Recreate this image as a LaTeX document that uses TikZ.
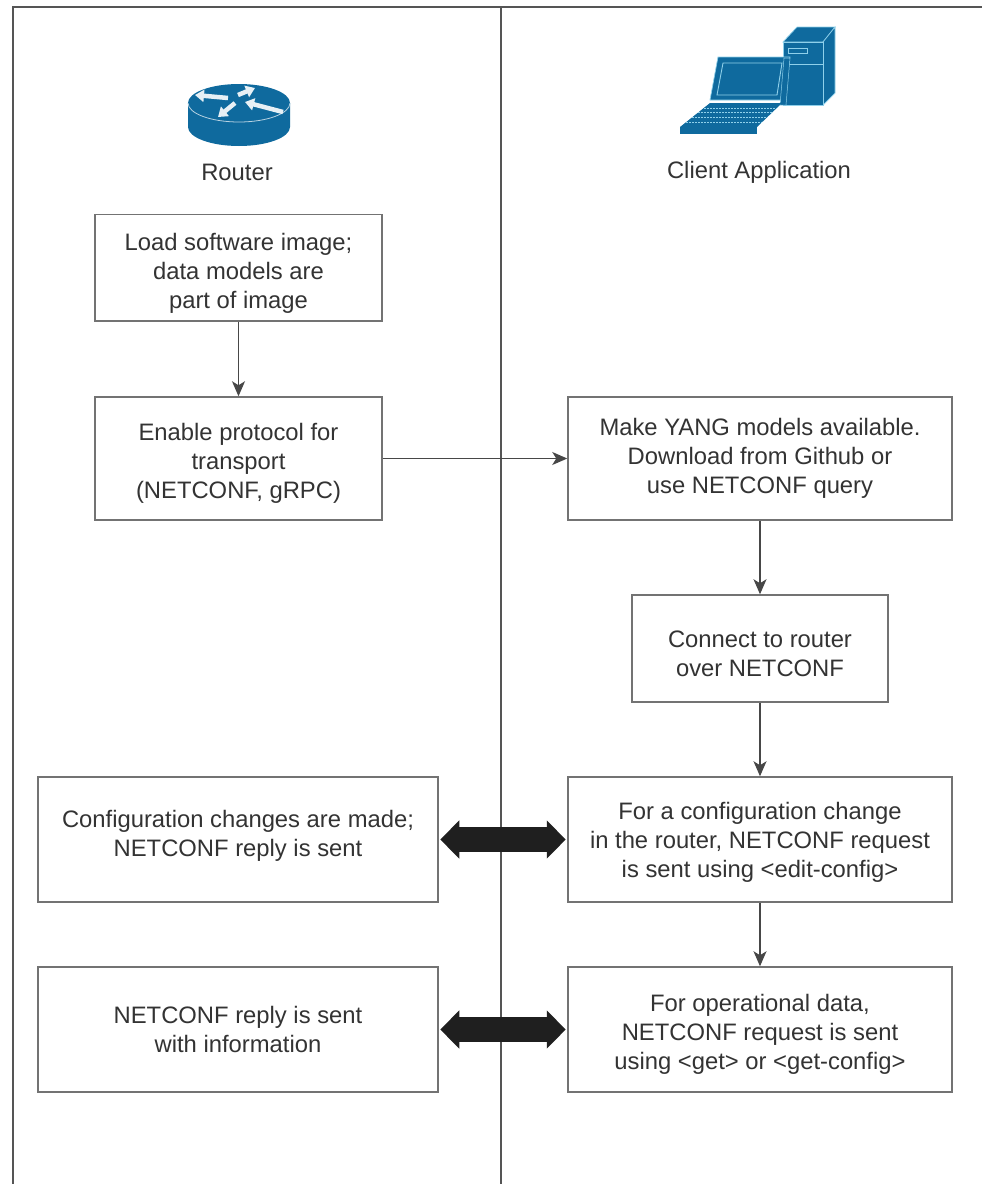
\documentclass[tikz,border=0pt]{standalone}
\usepackage{fontspec}
\setmainfont{Liberation Sans}
\usetikzlibrary{arrows.meta,calc}
\definecolor{ciscoblue}{HTML}{0F6A9E}
\definecolor{ciscolight}{HTML}{8FD0EA}
\definecolor{framegray}{HTML}{555555}
\definecolor{ink}{HTML}{333333}
\newcommand{\txtdown}[1]{\rule{0pt}{\dimexpr 18pt+2\dimexpr #1pt\relax\relax}}
\newcommand{\txtup}[1]{\rule[\dimexpr -6pt-2\dimexpr #1pt\relax\relax]{0pt}{0pt}}
\tikzset{
  x=1pt,y=-1pt,
  stepbox/.style={draw=black!55,line width=1.5pt,fill=white,align=center,text=ink,font=\fontsize{23.8}{29}\selectfont,inner sep=0pt},
  flow/.style={draw=black!72,line width=1.2pt,-{Stealth[length=15pt,width=13pt,inset=4pt]}},
  lbl/.style={text=ink,font=\fontsize{23.8}{29}\selectfont,inner sep=0pt},
  frameline/.style={draw=framegray,line width=1.7pt},
  rarrow/.style={draw=white!90!ciscoblue,line width=4.5pt,-{Triangle[length=9pt,width=12pt]}}
}
\begin{document}
\begin{tikzpicture}
\useasboundingbox (0,0) rectangle (982,1184);
\fill[white] (0,0) rectangle (982,1184);
% frame
\coordinate (tl) at (13,7); \coordinate (tr) at (982,7);
\coordinate (bl) at (13,1184); \coordinate (mt) at (501,7); \coordinate (mb) at (501,1184);
\draw[frameline] (bl) -- (tl) -- (tr);
\draw[frameline] (mt) -- (mb);
% boxes
\node[stepbox,minimum width=287pt,minimum height=106.5pt] (load) at (238.5,267.75) {\txtdown{5}Load software image;\\data models are\\part of image};
\node[stepbox,minimum width=287pt,minimum height=123pt] (enable) at (238.5,458.5) {\txtdown{4.5}Enable protocol for\\transport\\(NETCONF, gRPC)};
\node[stepbox,minimum width=384pt,minimum height=123pt] (yang) at (760,458.5) {Make YANG models available.\\Download from Github or\\use NETCONF query};
\node[stepbox,minimum width=256pt,minimum height=107pt] (connect) at (760,648.5) {\txtdown{4.5}Connect to router\\over NETCONF};
\node[stepbox,minimum width=384pt,minimum height=125pt] (edit) at (760,839.5) {\txtdown{2.5}For a configuration change\\in the router, NETCONF request\\is sent using <edit-config>};
\node[stepbox,minimum width=384pt,minimum height=125pt] (getc) at (760,1029.5) {\txtdown{4}For operational data,\\NETCONF request is sent\\using <get> or <get-config>};
\node[stepbox,minimum width=400pt,minimum height=125pt] (cfg) at (238,839.5) {Configuration changes are made;\\NETCONF reply is sent\txtup{3}};
\node[stepbox,minimum width=400pt,minimum height=125pt] (reply) at (238,1029.5) {NETCONF reply is sent\\with information};
% connectors
\draw[flow] (load) -- (enable);
\draw[flow] (enable) -- (yang);
\draw[flow] (yang) -- (connect);
\draw[flow] (connect) -- (edit);
\draw[flow] (edit) -- (getc);
% thick double arrows
\foreach \a/\b in {cfg/edit,reply/getc}{
  \draw[line width=25pt,draw=black!88,{Triangle[length=19pt,width=37pt]}-{Triangle[length=19pt,width=37pt]},shorten <=1.5pt,shorten >=1.5pt] (\a.east) -- (\b.west);
}
% router icon
\node[lbl] (rlabel) at (237,172) {Router};
\begin{scope}[shift={(239,112)}]
  \fill[ciscoblue] (-51,-9) -- (-51,15) arc[x radius=51,y radius=19,start angle=180,end angle=0] -- (51,-9) -- cycle;
  \fill[ciscoblue] (0,-9) ellipse[x radius=51,y radius=19];
  \draw[white!70!ciscoblue,line width=.8pt] (-51,-9) arc[x radius=51,y radius=19,start angle=180,end angle=0];
  \coordinate (a1t) at (-11,-14); \coordinate (a1h) at (-44,-17);
  \coordinate (a2t) at (-1,-17);  \coordinate (a2h) at (16,-24);
  \coordinate (a3t) at (44,0);    \coordinate (a3h) at (6,-10);
  \coordinate (a4t) at (-4,-9);   \coordinate (a4h) at (-21,5);
  \draw[rarrow] (a1t) -- (a1h);
  \draw[rarrow] (a2t) -- (a2h);
  \draw[rarrow] (a3t) -- (a3h);
  \draw[rarrow] (a4t) -- (a4h);
\end{scope}
% client icon
\node[lbl] (clabel) at (759,172) {Client Application};
\begin{scope}
  % server
  \fill[ciscoblue,draw=ciscolight,line width=.7pt] (783,42) -- (797,27) -- (835,27) -- (823,42) -- cycle;
  \fill[ciscoblue,draw=ciscolight,line width=.7pt] (823,42) -- (835,27) -- (835,93) -- (823,105) -- cycle;
  \fill[ciscoblue,draw=ciscolight,line width=.7pt] (783,42) rectangle (823,105);
  \draw[ciscolight,line width=.7pt] (783,64) -- (823,64);
  \draw[ciscolight,line width=.7pt] (788,48) rectangle (807,53);
  % laptop screen
  \fill[ciscoblue,draw=ciscolight,line width=.7pt] (718,57) -- (790,57) -- (783,100) -- (710,100) -- cycle;
  \draw[ciscolight,line width=.9pt] (723,63) -- (782,63) -- (777,95) -- (717,95) -- cycle;
  \fill[ciscoblue,draw=ciscolight,line width=.5pt] (784,58) -- (790,58) -- (786,105) -- (780,105) -- cycle;
  % keyboard
  \fill[ciscoblue] (710,103) -- (782,103) -- (757,127) -- (680,127) -- cycle;
  \foreach \t in {.2,.4,.6,.8}{
    \draw[ciscolight,line width=.6pt,dash pattern=on 2pt off 1pt] ($(710,103)!\t!(680,127)$) -- ($(782,103)!\t!(757,127)$);
  }
  \draw[ciscolight,line width=.7pt] (680,127) -- (757,127);
  \fill[ciscoblue] (680,127) -- (757,127) -- (757,134) -- (680,134) -- cycle;
\end{scope}
\end{tikzpicture}
\end{document}
